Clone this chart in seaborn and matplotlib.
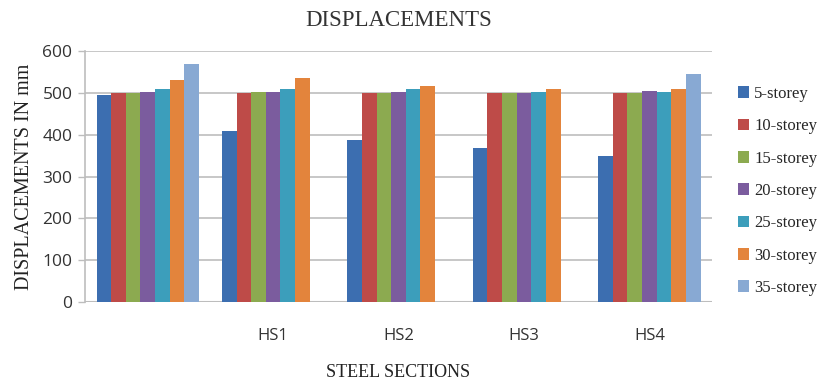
import numpy as np
import pandas as pd
import matplotlib
matplotlib.use("Agg")
import matplotlib.pyplot as plt
import seaborn as sns

# Steel sections (first group carries no label)
sections = ["", "HS1", "HS2", "HS3", "HS4"]
storeys = ["5-storey", "10-storey", "15-storey", "20-storey",
           "25-storey", "30-storey", "35-storey"]

# Displacement (mm) per storey series, one value per section (None = not analysed)
disp_5 = [496, 409, 387, 369, 350]
disp_10 = [500, 499, 500, 500, 500]
disp_15 = [500, 502, 500, 500, 500]
disp_20 = [502, 502, 502, 500, 505]
disp_25 = [508, 509, 509, 502, 502]
disp_30 = [530, 536, 516, 509, 509]
disp_35 = [569, None, None, None, 544]

colors = ["#3C6EB0", "#BE4B48", "#8CAA50", "#7B5C9E",
          "#3C9EBB", "#E3843C", "#88A9D3"]

series = [disp_5, disp_10, disp_15, disp_20, disp_25, disp_30, disp_35]
rows = []
for name, vals in zip(storeys, series):
    for sec, v in zip(sections, vals):
        if v is not None:
            rows.append({"section": sec, "storey": name, "disp": v})
df = pd.DataFrame(rows)

sns.set_theme(style="white")
plt.rcParams["font.family"] = ["Liberation Serif", "DejaVu Serif"]

fig = plt.figure(figsize=(8.29, 3.83), dpi=100)
ax = fig.add_axes([0.1025, 0.2115, 0.7565, 0.6553])

sns.barplot(data=df, x="section", y="disp", hue="storey",
            order=sections, hue_order=storeys, palette=colors,
            width=0.816, saturation=1, errorbar=None, ax=ax,
            linewidth=0, legend=True)

ax.set_xlim(-0.5, 4.5)
ax.set_ylim(0, 600)
ax.set_yticks(np.arange(0, 601, 100))
ax.yaxis.grid(True, color="#BDBDBD", linewidth=1.2)
ax.set_axisbelow(True)
for s in ["top", "right", "bottom"]:
    ax.spines[s].set_visible(False)
ax.spines["left"].set_color("#BDBDBD")
ax.spines["left"].set_linewidth(1.2)
ax.axhline(0, color="#BDBDBD", linewidth=1.5, zorder=0.5)

ax.tick_params(axis="y", which="major", left=True, length=5, width=1,
               color="#BDBDBD", pad=4, labelsize=12.5)
ax.tick_params(axis="x", bottom=False, pad=13, labelsize=12)
for lab in ax.get_yticklabels() + ax.get_xticklabels():
    lab.set_family(["Open Sans", "DejaVu Sans"])
    lab.set_color("#333333")

ax.set_title("DISPLACEMENTS", fontsize=16.5, color="#333333", pad=18)
ax.set_xlabel("STEEL SECTIONS", fontsize=13, color="#222222", labelpad=14)
ax.set_ylabel("DISPLACEMENTS IN mm", fontsize=14.5, color="#222222", labelpad=6)

ax.legend(loc="center left", bbox_to_anchor=(1.03, 0.442), frameon=False,
          fontsize=12, handlelength=0.7, handleheight=0.7,
          handletextpad=0.3, labelspacing=0.98, borderaxespad=0)

fig.savefig("out.png", dpi=100)
